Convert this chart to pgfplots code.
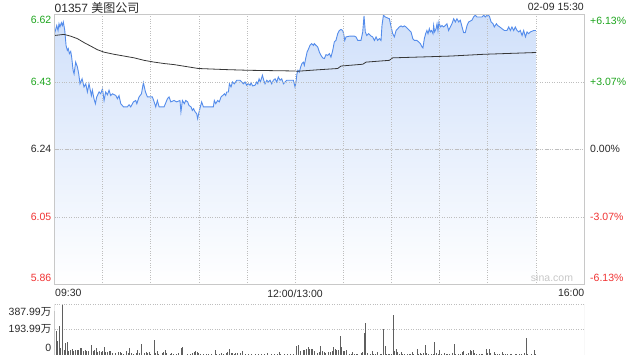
\documentclass[border=0pt]{standalone}
\usepackage{pgfplots}
\pgfplotsset{compat=1.18}
\usepackage{pgfplotstable}
\usepackage{fontspec}
\setmainfont{Liberation Sans}
\newfontfamily\cjk{Noto Sans CJK SC}
\definecolor{gridc}{RGB}{190,190,190}
\definecolor{framec}{RGB}{200,200,200}
\definecolor{linec}{RGB}{84,140,235}
\definecolor{fillc}{RGB}{208,224,250}
\definecolor{avgc}{RGB}{55,55,55}
\definecolor{upc}{RGB}{30,165,30}
\definecolor{dnc}{RGB}{240,50,50}
\definecolor{barc}{RGB}{95,95,95}
\definecolor{txtc}{RGB}{40,40,40}

\pgfplotstableread{
t p
0 6.566
1.4 6.589
2.2 6.575
2.8 6.594
3.4 6.585
4.3 6.597
4.9 6.589
5.5 6.599
6.4 6.575
7.2 6.533
8.0 6.519
8.6 6.524
9.3 6.510
10.1 6.516
10.7 6.500
11.6 6.463
12.2 6.453
13.2 6.486
14.3 6.472
15.1 6.453
15.9 6.425
17.2 6.439
18.4 6.416
19.5 6.425
20.5 6.402
21.5 6.425
23.0 6.392
23.6 6.407
24.6 6.383
25.5 6.369
26.3 6.388
27.8 6.402
28.8 6.397
29.9 6.411
30.9 6.378
31.9 6.402
33.0 6.394
34.0 6.407
35.0 6.392
36.1 6.397
38.2 6.392
39.2 6.383
40.2 6.392
41.3 6.369
43.0 6.360
45.4 6.360
46.5 6.366
47.5 6.360
49.2 6.374
50.6 6.378
51.3 6.369
52.7 6.388
54.2 6.397
55.4 6.428
56.7 6.402
57.9 6.388
61.0 6.388
62.1 6.374
63.1 6.360
64.1 6.378
65.2 6.360
68.3 6.360
70.4 6.383
71.4 6.388
72.5 6.374
74.5 6.378
76.1 6.374
78.2 6.378
78.8 6.346
79.7 6.378
80.9 6.369
81.8 6.378
83.0 6.374
83.8 6.364
85.1 6.360
85.9 6.350
86.7 6.355
87.6 6.346
88.6 6.341
89.2 6.327
90.1 6.346
90.9 6.360
91.7 6.374
92.8 6.360
99.0 6.360
99.6 6.378
100.5 6.369
101.7 6.378
102.7 6.374
103.8 6.388
104.8 6.392
105.9 6.397
106.7 6.392
107.3 6.402
108.4 6.402
109.0 6.425
110.0 6.416
110.9 6.430
112.1 6.425
113.6 6.435
115.6 6.435
116.7 6.430
117.7 6.425
118.8 6.430
119.8 6.421
120.8 6.425
121.9 6.421
122.5 6.428
123.5 6.419
125.0 6.421
126.0 6.430
126.7 6.425
127.5 6.439
128.3 6.430
129.6 6.449
130.4 6.435
131.2 6.425
132.3 6.435
133.3 6.430
134.3 6.435
135.4 6.425
136.4 6.435
137.5 6.439
138.5 6.430
139.5 6.444
140.6 6.435
141.6 6.439
142.7 6.425
143.7 6.430
144.7 6.435
148.9 6.435
149.9 6.416
150.5 6.430
151.1 6.453
151.7 6.463
152.6 6.458
153.4 6.472
154.2 6.482
155.1 6.486
155.7 6.477
156.3 6.491
157.4 6.514
158.4 6.524
159.2 6.533
160.3 6.538
161.3 6.533
161.9 6.538
163.0 6.533
164.0 6.529
165.1 6.514
166.1 6.505
167.1 6.498
168.2 6.496
169.2 6.507
170.3 6.505
171.3 6.510
172.3 6.500
173.4 6.519
174.4 6.543
175.4 6.547
176.5 6.566
177.5 6.575
178.6 6.578
179.6 6.575
180.2 6.566
180.9 6.547
181.7 6.557
183.8 6.559
186.9 6.559
187.9 6.557
189.0 6.547
191.0 6.547
192.1 6.571
192.9 6.616
193.7 6.571
194.6 6.561
195.8 6.566
197.3 6.559
198.3 6.557
199.4 6.547
200.4 6.557
201.4 6.547
202.5 6.552
203.5 6.547
204.1 6.589
205.0 6.618
206.2 6.613
207.7 6.610
208.7 6.608
209.8 6.585
210.8 6.566
211.8 6.557
212.9 6.575
213.9 6.580
214.9 6.585
216.0 6.588
217.0 6.585
218.0 6.588
219.1 6.585
220.1 6.580
221.2 6.575
222.2 6.571
223.3 6.552
224.3 6.547
225.9 6.547
226.9 6.543
228.0 6.538
229.0 6.529
229.6 6.526
230.5 6.552
231.3 6.566
232.1 6.575
232.8 6.566
233.6 6.580
234.2 6.571
235.0 6.575
235.9 6.566
236.3 6.589
236.9 6.571
237.8 6.580
238.4 6.594
239.0 6.575
239.6 6.599
240.5 6.585
241.5 6.589
242.5 6.585
243.6 6.589
244.6 6.594
245.6 6.575
246.7 6.585
247.7 6.594
248.8 6.608
249.8 6.599
250.8 6.608
251.9 6.599
252.9 6.604
254.0 6.585
255.0 6.569
256.0 6.569
257.1 6.589
258.1 6.599
260.2 6.604
261.2 6.613
262.3 6.618
263.3 6.613
266.4 6.613
267.5 6.618
268.5 6.613
269.6 6.618
270.6 6.618
271.2 6.613
272.1 6.599
273.3 6.594
274.1 6.585
275.4 6.594
276.2 6.589
277.5 6.585
278.9 6.580
280.4 6.575
282.0 6.575
283.1 6.585
284.1 6.575
285.1 6.585
286.2 6.575
287.2 6.585
288.3 6.575
289.3 6.571
290.3 6.575
291.4 6.561
292.4 6.575
293.5 6.557
294.5 6.571
295.5 6.566
296.6 6.571
298.7 6.575
300 6.575
}\price

\pgfplotstableread{
t p
300 5.86
0 5.86
}\corners
\pgfplotstablevertcat{\pricefill}{\price}
\pgfplotstablevertcat{\pricefill}{\corners}

\pgfplotstableread{
t p
0 6.561
5.9 6.564
10.1 6.559
14.3 6.552
18.4 6.541
22.6 6.531
26.7 6.521
30.9 6.514
37.1 6.508
43.4 6.503
49.6 6.498
55.8 6.491
62.1 6.486
68.3 6.482
74.5 6.479
89.7 6.468
106.3 6.465
120.8 6.463
149.9 6.461
150.5 6.460
163.0 6.464
176.5 6.468
178.6 6.475
192.1 6.480
194.2 6.486
208.7 6.491
210.8 6.498
225.3 6.500
246.7 6.503
267.5 6.508
300 6.513
}\avgp

\pgfplotstableread{
t v
0 337
1 180
2 104
3 218
4 53
5 383
6 41
7 91
8 99
9 33
10 41
11 48
12 33
13 41
14 36
15 41
16 53
17 53
18 33
19 41
20 33
21 28
23 79
24 28
25 41
26 53
27 23
28 33
29 23
30 28
31 61
32 23
33 23
34 28
35 33
36 15
38 15
40 23
41 23
42 15
43 8
45 28
46 15
47 53
48 15
49 10
51 15
52 41
53 15
54 86
56 15
57 23
58 15
59 23
60 8
62 117
63 15
64 28
65 10
67 15
68 23
69 38
70 15
72 10
73 15
74 8
76 10
77 15
79 53
80 61
81 3
83 8
85 8
86 15
87 23
88 28
89 23
90 15
91 8
93 8
95 8
96 8
98 8
100 36
101 10
103 10
104 15
105 10
107 15
108 23
109 46
110 15
111 15
112 8
113 15
114 15
116 15
117 28
119 10
121 10
123 8
125 8
127 8
129 8
131 8
133 15
135 8
137 8
139 10
140 23
141 10
143 8
145 8
147 8
149 10
151 66
152 74
153 28
155 41
156 41
157 48
158 58
159 48
160 46
161 48
162 28
164 15
165 23
166 66
167 28
168 20
169 15
171 23
172 20
173 33
174 58
175 48
176 41
177 41
178 142
179 58
180 33
181 28
182 36
184 8
185 8
186 23
187 10
188 10
189 8
191 15
192 23
193 167
194 243
195 15
197 10
198 28
199 10
200 8
201 23
203 10
204 8
205 198
206 66
207 10
208 8
209 8
210 8
211 302
212 28
213 46
214 20
215 10
216 23
217 8
218 8
220 8
221 8
222 10
223 23
224 8
226 46
227 8
228 15
229 8
230 15
231 74
232 15
233 8
235 8
236 8
237 99
238 15
239 8
240 36
241 8
243 15
244 10
245 8
246 10
248 15
249 84
250 8
252 8
253 10
254 23
255 33
257 8
258 15
259 36
260 28
261 36
262 15
263 8
265 10
266 8
267 8
269 46
270 15
271 46
272 15
274 23
275 10
276 8
277 8
279 23
280 8
281 8
282 8
284 8
285 8
287 10
288 8
290 8
291 8
293 15
294 129
295 8
297 8
299 36
300 8
}\vol

\begin{document}
\fontsize{10.5bp}{12bp}\selectfont
\begin{tikzpicture}
\path[use as bounding box] (0,0) rectangle (640bp,360bp);
\begin{axis}[
  at={(54.5bp,75.5bp)}, anchor=south west, scale only axis,
  width=529.5bp, height=270bp,
  xmin=0, xmax=330, ymin=5.86, ymax=6.62,
  xtick={30,60,...,300}, xticklabels={},
  ytick={6.43,6.05}, yticklabels={},
  extra y ticks={6.24}, extra y tick labels={},
  extra y tick style={grid=major, major grid style={dash pattern=on 4bp off 1bp on 1bp off 1bp on 1bp off 2bp, color=gridc, line width=0.8bp}},
  grid=major,
  major grid style={dotted, color=gridc, line width=0.7bp},
  major tick length=0,
  axis line style={color=framec, line width=0.8bp},
  axis on top,
]
\addplot[draw=none, top color=fillc, bottom color=white, mark=none] table[x=t,y=p]{\pricefill} -- cycle;
\addplot[color=linec, line width=0.9bp, mark=none] table[x=t,y=p]{\price};
\addplot[color=avgc, line width=0.8bp, mark=none] table[x=t,y=p]{\avgp};
\end{axis}
\begin{axis}[
  at={(54.5bp,5bp)}, anchor=south west, scale only axis,
  width=529.5bp, height=51bp,
  xmin=0, xmax=330, ymin=0, ymax=387.99,
  xtick=\empty, ytick={193.99,387.99}, yticklabels={},
  ymajorgrids, major grid style={dotted, color=gridc, line width=0.9bp},
  major tick length=0,
  axis line style={draw=none},
]
\addplot[ycomb, color=barc, line width=0.9bp, mark=none] table[x=t,y=v]{\vol};
\draw[framec, line width=0.8bp] (rel axis cs:0,1) -- (rel axis cs:0,0) -- (rel axis cs:1,0) -- (rel axis cs:1,1);
\end{axis}
% titles
\node[anchor=west, inner sep=0, text=txtc, font=\fontsize{12bp}{14bp}\selectfont] at (54.5bp,352.5bp) {01357 {\cjk 美图公司}};
\node[anchor=east, inner sep=0, text=txtc] at (584bp,352.7bp) {02-09 15:30};
% left labels
\node[anchor=east, inner sep=0, text=upc] at (51.5bp,340bp) {6.62};
\node[anchor=east, inner sep=0, text=upc] at (51.5bp,278.3bp) {6.43};
\node[anchor=east, inner sep=0, text=txtc] at (51.5bp,210.7bp) {6.24};
\node[anchor=east, inner sep=0, text=dnc] at (51.5bp,142.7bp) {6.05};
\node[anchor=east, inner sep=0, text=dnc] at (51.5bp,82bp) {5.86};
% right labels
\node[anchor=west, inner sep=0, text=upc] at (590bp,339.3bp) {+6.13\%};
\node[anchor=west, inner sep=0, text=upc] at (590bp,278.3bp) {+3.07\%};
\node[anchor=west, inner sep=0, text=txtc] at (590bp,210.7bp) {0.00\%};
\node[anchor=west, inner sep=0, text=dnc] at (590bp,142.7bp) {-3.07\%};
\node[anchor=west, inner sep=0, text=dnc] at (590bp,81.7bp) {-6.13\%};
% x labels
\node[anchor=west, inner sep=0, text=txtc] at (55bp,66.7bp) {09:30};
\node[anchor=center, inner sep=0, text=txtc] at (295bp,66.7bp) {12:00/13:00};
\node[anchor=east, inner sep=0, text=txtc] at (584.5bp,66.7bp) {16:00};
% volume labels
\node[anchor=east, inner sep=0, text=txtc] at (51.5bp,48.3bp) {387.99{\cjk 万}};
\node[anchor=east, inner sep=0, text=txtc] at (51.5bp,30.7bp) {193.99{\cjk 万}};
\node[anchor=east, inner sep=0, text=txtc] at (51.5bp,12bp) {0};
% watermark
\node[anchor=center, inner sep=0, text=black!22] at (552bp,82bp) {sina.com};
\end{tikzpicture}
\end{document}
